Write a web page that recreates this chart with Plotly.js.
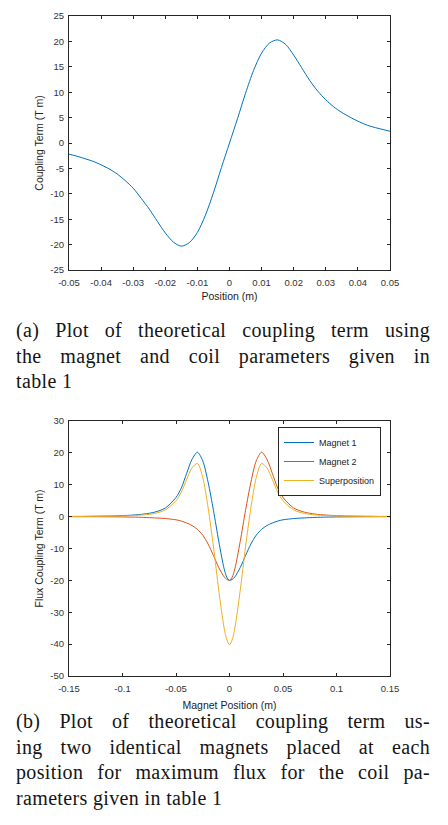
<!DOCTYPE html>
<html>
<head>
<meta charset="utf-8">
<script src="https://cdn.plot.ly/plotly-3.0.1.min.js"></script>
<style>
  body { margin: 0; background: #fff; }
  #fig { position: absolute; left: 0; top: 0; width: 448px; height: 825px; }
  .cap {
    position: absolute; left: 16px; width: 414px;
    font-family: "Liberation Serif", serif; font-size: 20px; line-height: 25.5px;
    letter-spacing: 0.35px; color: #151515;
  }
  .cap span { display: block; text-align: justify; text-align-last: justify; }
  .cap span.last { text-align-last: left; }
</style>
</head>
<body>
<div id="fig"></div>
<div class="cap" style="top:318px">
  <span>(a) Plot of theoretical coupling term using</span>
  <span>the magnet and coil parameters given in</span>
  <span class="last">table 1</span>
</div>
<div class="cap" style="top:709px">
  <span>(b) Plot of theoretical coupling term us-</span>
  <span>ing two identical magnets placed at each</span>
  <span>position for maximum flux for the coil pa-</span>
  <span class="last">rameters given in table 1</span>
</div>
<script>
// (a) single magnet coupling term
const posX = [-0.05, -0.0475, -0.045, -0.0425, -0.04, -0.0375, -0.035, -0.0325, -0.03, -0.0275,
  -0.025, -0.0225, -0.02, -0.0175, -0.015, -0.0125, -0.01, -0.0075, -0.005, -0.0025, 0,
  0.0025, 0.005, 0.0075, 0.01, 0.0125, 0.015, 0.0175, 0.02, 0.0225, 0.025, 0.0275, 0.03,
  0.0325, 0.035, 0.0375, 0.04, 0.0425, 0.045, 0.0475, 0.05];
const coupling = [-2.2, -2.6, -3.1, -3.6, -4.3, -5.1, -6.1, -7.4, -8.9, -10.9,
  -13.0, -15.4, -17.7, -19.5, -20.3, -19.6, -17.6, -14.2, -9.8, -4.8, 0,
  4.8, 9.8, 14.3, 17.7, 19.7, 20.3, 19.4, 17.3, 14.8, 12.3, 10.2, 8.5,
  7.1, 6.0, 5.1, 4.3, 3.6, 3.1, 2.7, 2.3];

// (b) two magnets
const magX = [-0.15, -0.13, -0.11, -0.1, -0.09, -0.08, -0.07, -0.06, -0.05, -0.045, -0.04,
  -0.035, -0.03, -0.025, -0.02, -0.015, -0.01, -0.005, -0.0025, 0, 0.0025, 0.005, 0.01,
  0.015, 0.02, 0.025, 0.03, 0.035, 0.04, 0.045, 0.05, 0.06, 0.07, 0.08, 0.09, 0.1, 0.11,
  0.13, 0.15];
const magnet1 = [0.05, 0.1, 0.2, 0.3, 0.5, 0.8, 1.4, 2.7, 6.0, 9.0, 13.6,
  18.0, 20.2, 17.5, 10.8, 2.0, -7.8, -16.4, -19.0, -20.0, -19.7, -18.9, -16.0,
  -12.2, -8.6, -5.8, -4.0, -2.8, -2.0, -1.4, -1.0, -0.6, -0.4, -0.25, -0.15, -0.1, -0.07,
  -0.03, 0];
const magnet2 = [0, -0.03, -0.07, -0.1, -0.15, -0.25, -0.4, -0.6, -1.0, -1.4, -2.0,
  -2.8, -4.0, -5.8, -8.6, -12.2, -16.0, -18.9, -19.7, -20.0, -19.0, -16.4, -7.8,
  2.0, 10.8, 17.5, 20.2, 18.0, 13.6, 9.0, 6.0, 2.7, 1.4, 0.8, 0.5, 0.3, 0.2,
  0.1, 0.05];
const superposition = [0, 0.07, 0.13, 0.2, 0.35, 0.55, 1.0, 2.1, 5.0, 7.7, 11.7,
  15.3, 16.7, 12.3, 2.8, -9.4, -23.2, -35.0, -38.6, -40.2, -38.6, -35.0, -23.2,
  -9.4, 2.8, 12.3, 16.7, 15.3, 11.7, 7.7, 5.0, 2.1, 1.0, 0.55, 0.35, 0.2, 0.13,
  0.07, 0];

const seriesNames = ["Magnet 1", "Magnet 2", "Superposition"];

// tick labels (MATLAB uses a plain hyphen for minus)
const topXTicks = [-0.05, -0.04, -0.03, -0.02, -0.01, 0, 0.01, 0.02, 0.03, 0.04, 0.05];
const topXLabels = ["-0.05", "-0.04", "-0.03", "-0.02", "-0.01", "0", "0.01", "0.02", "0.03", "0.04", "0.05"];
const topYTicks = [-25, -20, -15, -10, -5, 0, 5, 10, 15, 20, 25];
const topYLabels = ["-25", "-20", "-15", "-10", "-5", "0", "5", "10", "15", "20", "25"];
const botXTicks = [-0.15, -0.1, -0.05, 0, 0.05, 0.1, 0.15];
const botXLabels = ["-0.15", "-0.1", "-0.05", "0", "0.05", "0.1", "0.15"];
const botYTicks = [-50, -40, -30, -20, -10, 0, 10, 20, 30];
const botYLabels = ["-50", "-40", "-30", "-20", "-10", "0", "10", "20", "30"];

const colors = ["#0072BD", "#D95319", "#EDB120"];
const axisColor = "#262626";
const sans = "Liberation Sans, Arial, sans-serif";

function axis(domain, range, tickvals, ticktext, title, anchor, labelGap, standoff) {
  return {
    domain: domain,
    range: range,
    anchor: anchor,
    tickmode: "array",
    tickvals: tickvals,
    ticktext: ticktext,
    ticks: "inside",
    ticklen: 3,
    tickwidth: 1,
    tickcolor: axisColor,
    ticklabelstandoff: labelGap,
    showline: true,
    linecolor: axisColor,
    linewidth: 1,
    mirror: "ticks",
    showgrid: false,
    zeroline: false,
    tickfont: { family: sans, size: 9.5, color: "#333" },
    title: { text: title, font: { family: sans, size: 10.5, color: "#222" }, standoff: standoff },
    fixedrange: true,
  };
}

const traces = [
  {
    type: "scatter", mode: "lines", x: posX, y: coupling,
    xaxis: "x", yaxis: "y",
    line: { color: colors[0], width: 1, shape: "spline", smoothing: 0.8 },
    showlegend: false,
  },
  {
    type: "scatter", mode: "lines", name: seriesNames[0], x: magX, y: magnet1,
    xaxis: "x2", yaxis: "y2",
    line: { color: colors[0], width: 1, shape: "spline", smoothing: 0.8 },
  },
  {
    type: "scatter", mode: "lines", name: seriesNames[1], x: magX, y: magnet2,
    xaxis: "x2", yaxis: "y2",
    line: { color: colors[1], width: 1, shape: "spline", smoothing: 0.8 },
  },
  {
    type: "scatter", mode: "lines", name: seriesNames[2], x: magX, y: superposition,
    xaxis: "x2", yaxis: "y2",
    line: { color: colors[2], width: 1, shape: "spline", smoothing: 0.8 },
  },
];

const xDomain = [69 / 448, 390 / 448];
const layout = {
  width: 448,
  height: 825,
  margin: { l: 0, r: 0, t: 0, b: 0 },
  paper_bgcolor: "#ffffff",
  plot_bgcolor: "#ffffff",
  showlegend: true,
  xaxis: axis(xDomain, [-0.05, 0.05], topXTicks, topXLabels, "Position (m)", "y", 4, 5),
  yaxis: axis([1 - 270 / 825, 1 - 16 / 825], [-25, 25], topYTicks, topYLabels, "Coupling Term (T m)", "x", 2, 4),
  xaxis2: axis(xDomain, [-0.15, 0.15], botXTicks, botXLabels, "Magnet Position (m)", "y2", 4, 8),
  yaxis2: axis([1 - 676 / 825, 1 - 421 / 825], [-50, 30], botYTicks, botYLabels, "Flux Coupling Term (T m)", "x2", 2, 4),
  legend: {
    x: 381 / 448,
    xanchor: "right",
    y: 1 - 427 / 825,
    yanchor: "top",
    bgcolor: "#ffffff",
    bordercolor: axisColor,
    borderwidth: 1,
    font: { family: sans, size: 9, color: "#222" },
    itemwidth: 30,
    tracegroupgap: 0,
  },
};

Plotly.newPlot("fig", traces, layout, { staticPlot: true, displayModeBar: false });
</script>
</body>
</html>
